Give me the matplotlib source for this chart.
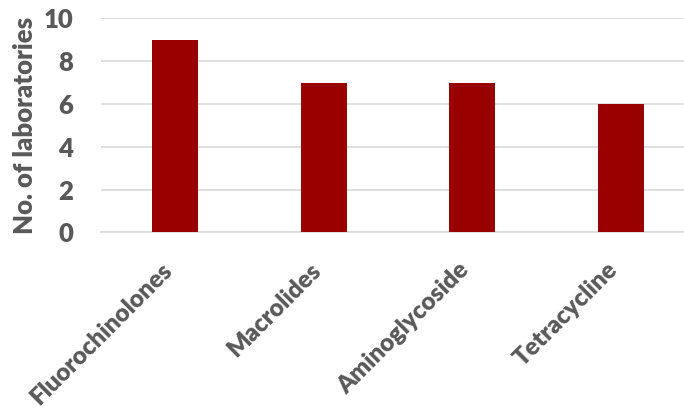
import numpy as np
import matplotlib.pyplot as plt
from matplotlib import font_manager
from matplotlib.transforms import ScaledTranslation

classes = ['Fluorochinolones', 'Macrolides', 'Aminoglycoside', 'Tetracycline']
labs = [9, 7, 7, 6]
yticks = [0, 2, 4, 6, 8, 10]

grey = '#595959'

# heavier Lato cut, closer to the bold office font
heavy = [f.fname for f in font_manager.fontManager.ttflist
         if f.name == 'Lato' and f.weight == 800 and f.style == 'normal']
if heavy:
    fp = font_manager.FontProperties(fname=heavy[0], size=18.5)
    fpx = font_manager.FontProperties(fname=heavy[0], size=17.6)
else:
    fp = font_manager.FontProperties(family='Lato', weight='heavy', size=18.5)
    fpx = font_manager.FontProperties(family='Lato', weight='heavy', size=17.6)

fig = plt.figure(figsize=(6.84, 4.15), dpi=100)
ax = fig.add_axes([0.1477, 0.440, 0.868, 0.516])

x = np.arange(len(classes))
ax.bar(x, labs, width=0.31, color='#990000', zorder=3)

ax.set_xlim(-0.5, len(classes) - 0.5)
ax.set_ylim(0, 10)
ax.set_yticks(yticks)
ax.yaxis.grid(True, color='#d9d9d9', linewidth=1.2, zorder=0)
ax.set_axisbelow(True)

for s in ['top', 'right', 'left']:
    ax.spines[s].set_visible(False)
ax.spines['bottom'].set_color('#d9d9d9')
ax.spines['bottom'].set_linewidth(1.2)

ax.tick_params(axis='both', length=0, colors=grey)
ax.tick_params(axis='y', pad=20)
ax.tick_params(axis='x', pad=6)
ax.set_xticks(x)
ax.set_xticklabels(classes, rotation=45, ha='right', rotation_mode='anchor', color=grey)
for t in ax.get_yticklabels():
    t.set_fontproperties(fp)
for t in ax.get_xticklabels():
    t.set_fontproperties(fpx)

# nudge the slanted labels down and left
shift = ScaledTranslation(-14 / 100, -18 / 100, fig.dpi_scale_trans)
for t in ax.get_xticklabels():
    t.set_transform(t.get_transform() + shift)

ax.set_ylabel('No. of laboratories', fontproperties=fp, color=grey, labelpad=5)

fig.savefig('out.png', dpi=100)
